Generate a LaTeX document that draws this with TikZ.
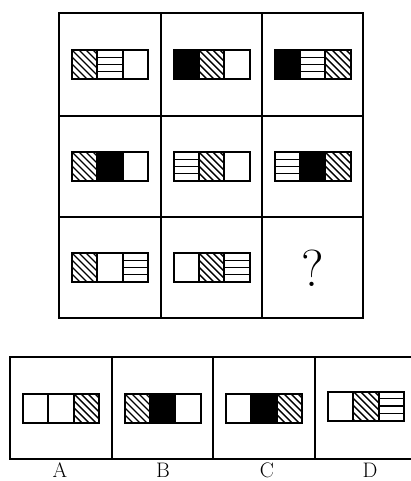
\documentclass[tikz,border=0pt]{standalone}
\tikzset{
  frame/.style={line width=2.2pt},
  box/.style={line width=2pt},
  hatch/.style={line width=1.4pt},
  sqW/.pic={},
  sqB/.pic={\fill (0,0) rectangle (25.33,29);},
  sqD/.pic={\begin{scope}\clip (0,0) rectangle (25.33,29);
      \foreach \t in {-35,-28,...,28} \draw[hatch] (\t,0) -- (\t+29,29);
    \end{scope}},
  sqH/.pic={\foreach \yy in {7.25,14.5,21.75} \draw[hatch] (0,\yy) -- (25.33,\yy);},
}
\newcommand\trifig[5]{%
  \pic at (#1-38,#2-14.5) {sq#3};
  \pic at (#1-12.67,#2-14.5) {sq#4};
  \pic at (#1+12.67,#2-14.5) {sq#5};
  \draw[box] (#1-38,#2-14.5) rectangle (#1+38,#2+14.5);
  \draw[box] (#1-12.67,#2-14.5) -- (#1-12.67,#2+14.5);
  \draw[box] (#1+12.67,#2-14.5) -- (#1+12.67,#2+14.5);
}
\begin{document}
\begin{tikzpicture}[x=1pt,y=-1pt]
\useasboundingbox (0,0) rectangle (411,481);
% main grid
\draw[frame] (59,13) rectangle (363,318);
\draw[frame] (161,13) -- (161,318);
\draw[frame] (262,13) -- (262,318);
\draw[frame] (59,116) -- (363,116);
\draw[frame] (59,217) -- (363,217);
% row 1
\trifig{110}{64.5}{D}{H}{W}
\trifig{211.5}{64.5}{B}{D}{W}
\trifig{312.5}{64.5}{B}{H}{D}
% row 2
\trifig{110}{166.5}{D}{B}{W}
\trifig{211.5}{166.5}{H}{D}{W}
\trifig{312.5}{166.5}{H}{B}{D}
% row 3
\trifig{110}{267.5}{D}{W}{H}
\trifig{211.5}{267.5}{W}{D}{H}
\node (q) at (312.5,268) {\fontsize{52}{52}\selectfont ?};
% options
\draw[frame] (411,357) -- (10,357) -- (10,459) -- (411,459);
\draw[frame] (112,357) -- (112,459);
\draw[frame] (213,357) -- (213,459);
\draw[frame] (315,357) -- (315,459);
\trifig{61}{408}{W}{W}{D}
\trifig{162.5}{408}{D}{B}{W}
\trifig{264}{408}{W}{B}{D}
\trifig{366}{406}{W}{D}{H}
\foreach \lab/\xx in {A/60,B/163,C/267,D/370}
  \node[anchor=base,inner sep=0pt] (l\lab) at (\xx,477.5) {\fontsize{21}{21}\selectfont \lab};
\end{tikzpicture}
\end{document}
